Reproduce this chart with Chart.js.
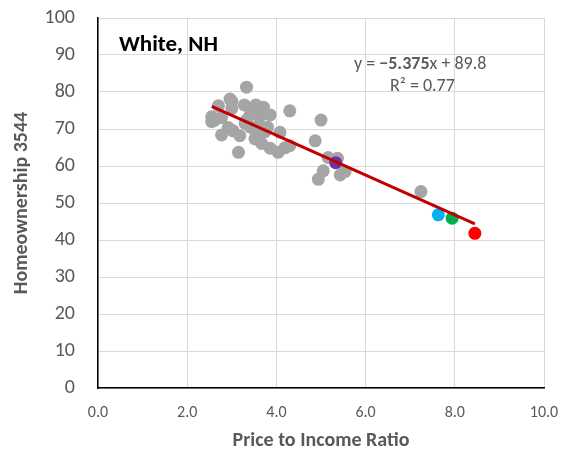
<!DOCTYPE html>
<html>
<head>
<meta charset="utf-8">
<script src="https://cdn.jsdelivr.net/npm/chart.js@4.4.1/dist/chart.umd.min.js"></script>
<style>
  html, body { margin: 0; padding: 0; background: #ffffff; }
  #wrap { width: 561px; height: 459px; }
</style>
</head>
<body>
<div id="wrap"><canvas id="chart" width="561" height="459"></canvas></div>
<script>
// Metro areas: price-to-income ratio vs. homeownership rate (ages 35-44), White non-Hispanic
const otherX = [3.33, 2.96, 3.00, 2.70, 3.28, 3.54, 3.71, 3.00, 4.30, 3.86,
                3.41, 2.55, 2.62, 2.77, 3.33, 3.63, 3.50, 3.41, 2.92, 3.03,
                3.18, 2.77, 3.52, 3.74, 4.08, 3.52, 3.67, 3.86, 4.04, 4.19,
                4.30, 3.15, 4.87, 5.00, 5.16, 5.37, 5.05, 4.94, 5.43, 5.54,
                7.24, 2.55, 3.60, 3.80, 3.30];
const otherY = [81.3, 78.1, 77.5, 76.3, 76.5, 76.5, 75.9, 75.6, 74.9, 73.8,
                73.8, 73.3, 72.4, 73.1, 72.4, 73.3, 74.5, 70.6, 70.4, 69.5,
                68.2, 68.4, 69.5, 69.3, 69.1, 67.3, 66.1, 64.8, 63.7, 64.9,
                65.5, 63.7, 66.8, 72.4, 62.3, 62.1, 58.7, 56.4, 57.6, 58.5,
                53.1, 72.0, 71.0, 70.5, 71.5];

// Highlighted metros
const highlightX = [5.33, 7.63, 7.94, 8.45];
const highlightY = [60.9, 46.8, 45.9, 41.8];
const highlightColors = ['#7030A0', '#00B0F0', '#00B050', '#FF0000'];

// Linear fit
const slope = -5.375;
const intercept = 89.8;
const rSquared = 0.77;

const xTicks = [0, 2, 4, 6, 8, 10];
const yTicks = [0, 10, 20, 30, 40, 50, 60, 70, 80, 90, 100];

const FONT = 'Carlito, Lato, "Liberation Sans", sans-serif';
const GREY_TEXT = '#595959';

const allX = otherX.concat(highlightX);
const fitMinX = Math.min(...allX);
const fitMaxX = Math.max(...allX);
const fitLine = [fitMinX, fitMaxX].map(x => ({ x: x, y: slope * x + intercept }));

const toPoints = (xs, ys) => xs.map((x, i) => ({ x: x, y: ys[i] }));

const annotations = {
  id: 'annotations',
  afterDatasetsDraw(chart) {
    const ctx = chart.ctx;
    ctx.save();
    ctx.textBaseline = 'middle';
    ctx.textAlign = 'left';

    ctx.fillStyle = '#000000';
    ctx.font = 'bold 23px ' + FONT;
    ctx.fillText('White, NH', 119, 45);

    // Trendline equation with the slope in bold
    const parts = [
      { t: 'y = ', f: '18px ' + FONT },
      { t: '\u2212' + Math.abs(slope).toFixed(3), f: 'bold 18px ' + FONT },
      { t: 'x + ' + intercept.toFixed(1), f: '18px ' + FONT }
    ];
    ctx.fillStyle = GREY_TEXT;
    let x = 354;
    parts.forEach(p => {
      ctx.font = p.f;
      ctx.fillText(p.t, x, 64);
      x += ctx.measureText(p.t).width;
    });
    ctx.font = '18px ' + FONT;
    ctx.fillText('R\u00B2 = ' + rSquared.toFixed(2), 390, 86);
    ctx.restore();
  }
};

new Chart(document.getElementById('chart'), {
  type: 'scatter',
  data: {
    datasets: [
      {
        label: 'Linear fit',
        type: 'line',
        data: fitLine,
        borderColor: '#C00000',
        borderWidth: 3,
        pointRadius: 0,
        fill: false,
        order: 0
      },
      {
        label: 'Highlighted',
        data: toPoints(highlightX, highlightY),
        backgroundColor: highlightColors,
        borderWidth: 0,
        pointRadius: 6.5,
        order: 1
      },
      {
        label: 'Metros',
        data: toPoints(otherX, otherY),
        backgroundColor: '#A5A5A5',
        borderWidth: 0,
        pointRadius: 6.5,
        order: 2
      }
    ]
  },
  options: {
    responsive: false,
    animation: false,
    devicePixelRatio: 1,
    layout: { padding: { top: 18, right: 17, left: 0, bottom: 0 } },
    plugins: {
      legend: { display: false },
      tooltip: { enabled: false }
    },
    scales: {
      x: {
        type: 'linear',
        min: 0,
        max: 10,
        afterBuildTicks(scale) { scale.ticks = xTicks.map(v => ({ value: v })); },
        afterFit(scale) {
          scale.height = 71;
          scale.paddingLeft = 0;
          scale.paddingRight = 0;
        },
        ticks: {
          callback: v => Number(v).toFixed(1),
          color: GREY_TEXT,
          font: { family: FONT, size: 16 },
          padding: 15
        },
        grid: { color: '#D9D9D9', lineWidth: 1, drawTicks: false },
        border: { color: '#000000', width: 1.5 },
        title: {
          display: true,
          text: 'Price to Income Ratio',
          color: GREY_TEXT,
          font: { family: FONT, size: 20, weight: 'bold' },
          padding: { top: 0, bottom: 6 }
        }
      },
      y: {
        type: 'linear',
        min: 0,
        max: 100,
        afterBuildTicks(scale) { scale.ticks = yTicks.map(v => ({ value: v })); },
        afterFit(scale) {
          scale.width = 98;
          scale.paddingTop = 0;
          scale.paddingBottom = 0;
        },
        ticks: {
          color: GREY_TEXT,
          font: { family: FONT, size: 20 },
          padding: 23
        },
        grid: { color: '#D9D9D9', lineWidth: 1, drawTicks: false },
        border: { color: '#000000', width: 1.5 },
        title: {
          display: true,
          text: 'Homeownership 3544',
          color: GREY_TEXT,
          font: { family: FONT, size: 20, weight: 'bold' },
          padding: { top: 10, bottom: 0 }
        }
      }
    }
  },
  plugins: [annotations]
});
</script>
</body>
</html>
